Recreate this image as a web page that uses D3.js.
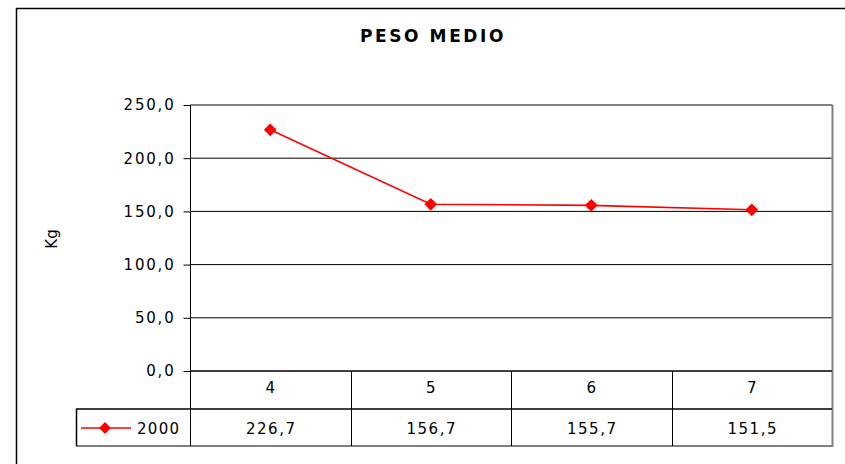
<!DOCTYPE html>
<html>
<head>
<meta charset="utf-8">
<title>PESO MEDIO</title>
<script src="https://cdn.jsdelivr.net/npm/d3@7"></script>
<style>
	html, body { margin:0; padding:0; background:#fff; }
	svg text { font-family: "DejaVu Sans", "Liberation Sans", Arial, sans-serif; fill:#000; }
</style>
</head>
<body>
<div id="chart_a"></div>
<script>
// data
var categories = ['4', '5', '6', '7'];
var seriesName = '2000';
var values = [226.7, 156.7, 155.7, 151.5];
var yTicks = [0, 50, 100, 150, 200, 250];
var chartTitle = 'PESO MEDIO';
var yLabel = 'Kg';

var chartengine = {
	width : 845,
	height : 464,
	init : function(container){
		let _container = container || 'chart_a';
		this.svg = d3.select('#'+_container).append('svg')
			.attr('width', this.width)
			.attr('height', this.height);
		this.build();
	},

	build : function(){
		let svg = this.svg;
		let fmt = d3.formatLocale({decimal:',', thousands:'.', grouping:[3], currency:['','']}).format('.1f');
		let fmt1 = function(v){ return fmt(v); };

		let x = d3.scaleBand().domain(categories).range([190, 832]).padding(0);
		let y = d3.scaleLinear().domain([0, 250]).range([371, 105]);
		let cx = function(i){ return x(categories[i]) + x.bandwidth()/2; };

		//outer frame (runs off the page right and bottom)
		svg.append('rect')
			.attr('x', 16.5).attr('y', 8.5)
			.attr('width', 900).attr('height', 500)
			.attr('fill', 'none').attr('stroke', '#000').attr('stroke-width', 1.5);

		//title
		svg.append('text')
			.attr('x', 433).attr('y', 42)
			.attr('text-anchor', 'middle')
			.style('font-size', '17px')
			.style('font-weight', 'bold')
			.style('letter-spacing', '2.6px')
			.text(chartTitle);

		//gridlines
		svg.append('g').selectAll('line')
			.data(yTicks.filter(function(d){ return d > 0 && d < 250; }))
			.enter().append('line')
			.attr('x1', 190).attr('x2', 832)
			.attr('y1', function(d){ return y(d); })
			.attr('y2', function(d){ return y(d); })
			.attr('stroke', '#000').attr('stroke-width', 1);

		//plot border top/right (grey)
		svg.append('line').attr('x1', 190).attr('x2', 832.5)
			.attr('y1', y(250)).attr('y2', y(250))
			.attr('stroke', '#808080').attr('stroke-width', 2);
		svg.append('line').attr('x1', 832.5).attr('x2', 832.5)
			.attr('y1', y(250)).attr('y2', 447)
			.attr('stroke', '#808080').attr('stroke-width', 2);

		//y axis
		let yAxis = d3.axisLeft(y).tickValues(yTicks).tickFormat(fmt1).tickSize(7).tickPadding(8);
		let ga = svg.append('g').attr('transform', 'translate(190.5,0)').call(yAxis);
		ga.select('.domain').attr('stroke', '#000').attr('d', 'M0,' + y(250) + 'V' + y(0));
		ga.selectAll('.tick line').attr('stroke', '#000');
		ga.selectAll('.tick text')
			.attr('fill', '#000')
			.style('font-size', '15px')
			.style('letter-spacing', '1.8px')
			.style('font-family', '"DejaVu Sans", "Liberation Sans", Arial, sans-serif');

		//y label
		svg.append('text')
			.attr('transform', 'translate(57,239) rotate(-90)')
			.attr('text-anchor', 'middle')
			.style('font-size', '15px')
			.text(yLabel);

		//data table
		let tbl = svg.append('g');
		let rowTop = y(0), rowMid = 409, rowBot = 446;
		tbl.append('line').attr('x1', 190).attr('x2', 832).attr('y1', rowTop).attr('y2', rowTop)
			.attr('stroke', '#000').attr('stroke-width', 1.5);
		tbl.append('line').attr('x1', 76).attr('x2', 832).attr('y1', rowMid).attr('y2', rowMid)
			.attr('stroke', '#000').attr('stroke-width', 1.5);
		tbl.append('line').attr('x1', 76).attr('x2', 833).attr('y1', rowBot).attr('y2', rowBot)
			.attr('stroke', '#808080').attr('stroke-width', 2);
		tbl.append('line').attr('x1', 76.5).attr('x2', 76.5).attr('y1', rowMid).attr('y2', rowBot)
			.attr('stroke', '#000').attr('stroke-width', 1.5);
		//column separators
		tbl.selectAll('line.sep')
			.data(categories)
			.enter().append('line')
			.attr('class', 'sep')
			.attr('x1', function(d){ return Math.round(x(d)) + 0.5; })
			.attr('x2', function(d){ return Math.round(x(d)) + 0.5; })
			.attr('y1', rowTop).attr('y2', rowBot)
			.attr('stroke', '#000').attr('stroke-width', 1);

		//category labels
		tbl.selectAll('text.cat')
			.data(categories)
			.enter().append('text')
			.attr('class', 'cat')
			.attr('x', function(d, i){ return cx(i); })
			.attr('y', 393)
			.attr('text-anchor', 'middle')
			.style('font-size', '15px')
			.text(function(d){ return d; });

		//value labels
		tbl.selectAll('text.val')
			.data(values)
			.enter().append('text')
			.attr('class', 'val')
			.attr('x', function(d, i){ return cx(i) + 1; })
			.attr('y', 434)
			.attr('text-anchor', 'middle')
			.style('font-size', '15px')
			.style('letter-spacing', '1.5px')
			.text(function(d){ return fmt1(d); });

		//legend key in the table
		tbl.append('line').attr('x1', 81).attr('x2', 131).attr('y1', 428).attr('y2', 428)
			.attr('stroke', '#ff0000').attr('stroke-width', 1.5);
		tbl.append('path')
			.attr('d', d3.symbol().type(d3.symbolSquare).size(72))
			.attr('transform', 'translate(105,428) rotate(45)')
			.attr('fill', '#ff0000');
		tbl.append('text')
			.attr('x', 137).attr('y', 434)
			.style('font-size', '15px')
			.style('letter-spacing', '1.3px')
			.text(seriesName);

		//series line
		let line = d3.line()
			.x(function(d, i){ return cx(i); })
			.y(function(d){ return y(d); });
		svg.append('path')
			.datum(values)
			.attr('d', line)
			.attr('fill', 'none')
			.attr('stroke', '#ff0000')
			.attr('stroke-width', 1.6);

		svg.append('g').selectAll('path')
			.data(values)
			.enter().append('path')
			.attr('d', d3.symbol().type(d3.symbolSquare).size(81))
			.attr('transform', function(d, i){
				return 'translate(' + cx(i) + ',' + y(d) + ') rotate(45)';
			})
			.attr('fill', '#ff0000');
	}
};

chartengine.init('chart_a');
</script>
</body>
</html>
